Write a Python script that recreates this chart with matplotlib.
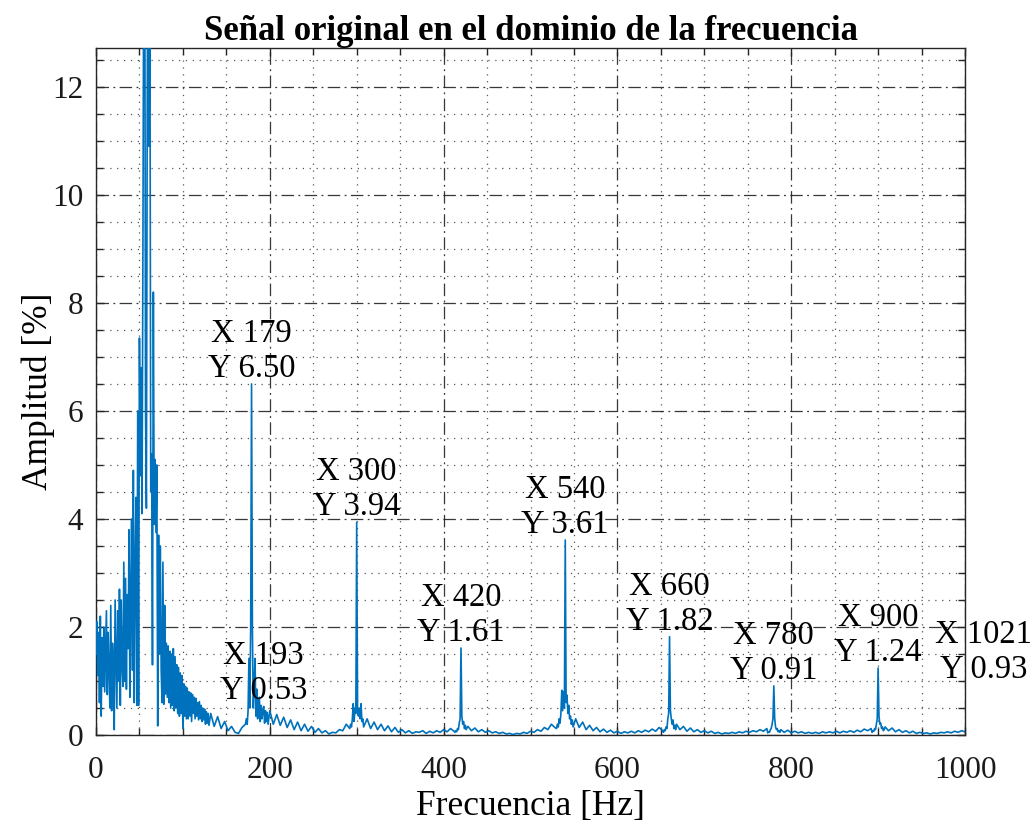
import numpy as np
import matplotlib
matplotlib.use('Agg')
from matplotlib import pyplot as plt
from matplotlib.ticker import MultipleLocator

# spectrum values
# 0..130 Hz, one value per Hz
low_amp = [1.5, 2.1, 1.1, 1.9, 0.6, 2.2, 0.35, 1.8, 0.9, 2.0,
           0.8, 1.6, 2.3, 0.75, 1.9, 1.2, 0.5, 2.4, 0.45, 1.7,
           1.3, 0.1, 2.5, 1.5, 0.5, 2.3, 1.0, 2.7, 0.55, 2.5,
           1.3, 0.9, 3.2, 1.0, 2.9, 0.85, 2.6, 1.6, 3.8, 0.7,
           2.7, 4.0, 1.2, 4.9, 0.6, 3.1, 4.4, 0.55, 6.0, 0.55,
           7.35, 4.8, 6.8, 4.1, 9.0, 15.0, 16.0, 6.0, 4.2, 12.0,
           16.0, 10.9, 14.0, 4.5, 5.2, 1.3, 8.2, 3.9, 5.1, 3.75,
           5.0, 0.17, 3.7, 1.5, 3.5, 1.2, 0.6, 3.2, 0.57, 2.4,
           0.76, 1.7, 0.7, 1.65, 0.6, 1.55, 0.5, 1.5, 0.55, 1.6,
           0.45, 1.45, 0.5, 1.3, 0.4, 1.25, 0.35, 1.15, 0.4, 1.1,
           0.12, 0.95, 0.35, 0.9, 0.3, 0.87, 0.3, 0.8, 0.35, 0.78,
           0.25, 0.75, 0.4, 0.7, 0.3, 0.68, 0.35, 0.6, 0.28, 0.62,
           0.3, 0.55, 0.25, 0.5, 0.28, 0.48, 0.2, 0.43, 0.22, 0.4,
           0.18]

# noise floor, 132..1028 Hz every 4 Hz
floor_amp = [0.40, 0.16, 0.34, 0.12, 0.25, 0.08, 0.16, 0.05, 0.03, 0.14,
             0.2, 1.4, 1.9, 0.35, 0.7, 0.45, 0.25, 0.45, 0.2, 0.38,
             0.18, 0.33, 0.14, 0.28, 0.1, 0.24, 0.08, 0.2, 0.07, 0.16,
             0.05, 0.12, 0.04, 0.08, 0.02, 0.05, 0.04, 0.1, 0.08, 0.2,
             0.12, 0.58, 3.9, 0.3, 0.15, 0.3, 0.12, 0.24, 0.1, 0.2,
             0.08, 0.17, 0.06, 0.14, 0.05, 0.1, 0.04, 0.08, 0.03, 0.06,
             0.05, 0.08, 0.03, 0.07, 0.04, 0.08, 0.05, 0.1, 0.06, 0.12,
             0.07, 0.12, 1.6, 0.12, 0.16, 0.08, 0.13, 0.06, 0.1, 0.05,
             0.08, 0.04, 0.06, 0.03, 0.05, 0.02, 0.03, 0.01, 0.03, 0.02,
             0.05, 0.03, 0.07, 0.05, 0.1, 0.07, 0.14, 0.1, 0.2, 0.14,
             0.15, 0.83, 3.6, 0.55, 0.28, 0.3, 0.14, 0.24, 0.1, 0.18,
             0.08, 0.14, 0.06, 0.11, 0.05, 0.09, 0.04, 0.07, 0.03, 0.06,
             0.04, 0.07, 0.04, 0.08, 0.05, 0.09, 0.06, 0.11, 0.07, 0.14,
             0.08, 0.15, 1.8, 0.28, 0.2, 0.1, 0.16, 0.07, 0.13, 0.06,
             0.1, 0.05, 0.08, 0.04, 0.07, 0.03, 0.05, 0.02, 0.04, 0.03,
             0.05, 0.03, 0.06, 0.04, 0.07, 0.05, 0.08, 0.06, 0.1, 0.07,
             0.12, 0.1, 0.9, 0.12, 0.1, 0.05, 0.09, 0.04, 0.07, 0.04,
             0.06, 0.03, 0.05, 0.03, 0.05, 0.03, 0.06, 0.04, 0.06, 0.04,
             0.07, 0.04, 0.07, 0.05, 0.08, 0.05, 0.09, 0.06, 0.11, 0.08,
             0.12, 0.12, 1.2, 0.12, 0.15, 0.08, 0.13, 0.06, 0.1, 0.05,
             0.08, 0.04, 0.07, 0.03, 0.05, 0.03, 0.04, 0.02, 0.04, 0.03,
             0.05, 0.04, 0.06, 0.04, 0.07, 0.05, 0.08, 0.06, 0.1, 0.07,
             0.12, 0.1, 0.3, 0.15, 0.08]

# 1 Hz detail around each harmonic: first bin, values
win_start = [172, 292, 413, 530, 653, 773, 893, 1014]
win_amp = [
    [0.2, 0.3, 0.2, 0.45, 1.42, 0.5, 2.0, 6.5, 1.9, 0.5, 0.9, 1.42, 0.35, 0.85,
     0.3, 0.6, 0.7, 0.25, 0.55, 0.3, 0.45, 0.53, 0.22, 0.45, 0.25, 0.42, 0.2],
    [0.12, 0.2, 0.15, 0.3, 0.58, 0.25, 0.5, 0.4, 3.94, 0.45, 0.35, 0.5, 0.3, 0.58,
     0.25, 0.3, 0.15],
    [0.05, 0.08, 0.06, 0.12, 0.1, 0.22, 0.3, 1.61, 0.35, 0.2, 0.25, 0.12, 0.18, 0.1, 0.14],
    [0.12, 0.2, 0.15, 0.3, 0.22, 0.4, 0.83, 0.45, 0.8, 0.5, 3.61, 0.6, 0.74, 0.4,
     0.55, 0.3, 0.35, 0.2, 0.28, 0.15, 0.2],
    [0.05, 0.1, 0.08, 0.15, 0.12, 0.3, 0.4, 1.82, 0.45, 0.3, 0.2, 0.28, 0.12, 0.18, 0.1],
    [0.04, 0.06, 0.05, 0.1, 0.12, 0.2, 0.3, 0.91, 0.3, 0.15, 0.1, 0.12, 0.06, 0.08, 0.05],
    [0.05, 0.08, 0.07, 0.12, 0.1, 0.2, 0.3, 1.24, 0.35, 0.2, 0.22, 0.12, 0.15, 0.08, 0.1],
    [0.05, 0.08, 0.1, 0.12, 0.15, 0.25, 0.3, 0.93, 0.3, 0.2, 0.15, 0.18, 0.1, 0.12, 0.08],
]

# data tips
tip_freq = [179, 193, 300, 420, 540, 660, 780, 900, 1021]
tip_amp = [6.50, 0.53, 3.94, 1.61, 3.61, 1.82, 0.91, 1.24, 0.93]

# put the spectrum together
f_low = np.arange(0, len(low_amp))
f_floor = np.arange(132, 132 + 4 * len(floor_amp), 4)
keep = np.ones(len(f_floor), dtype=bool)
f_parts = [f_low]
a_parts = [np.array(low_amp)]
for s, w in zip(win_start, win_amp):
    e = s + len(w) - 1
    keep &= ~((f_floor >= s) & (f_floor <= e))
    f_parts.append(np.arange(s, e + 1))
    a_parts.append(np.array(w))
f_parts.append(f_floor[keep])
a_parts.append(np.array(floor_amp)[keep])
freq = np.concatenate(f_parts)
amp = np.concatenate(a_parts)
order = np.argsort(freq, kind='stable')
freq, amp = freq[order], amp[order]

plt.rcParams['font.family'] = ['Liberation Serif', 'DejaVu Serif']

fig = plt.figure(figsize=(10.3, 8.27), dpi=100)
ax = fig.add_axes([0.0932, 0.1112, 0.8437, 0.8308])

ax.plot(freq, amp, color='#0072BD', lw=1.2, zorder=3)

ax.set_xlim(0, 1000)
ax.set_ylim(0, 12.72)
ax.xaxis.set_major_locator(MultipleLocator(200))
ax.xaxis.set_minor_locator(MultipleLocator(50))
ax.yaxis.set_major_locator(MultipleLocator(2))
ax.yaxis.set_minor_locator(MultipleLocator(0.5))

ax.grid(which='major', color='#222222', lw=0.9, dashes=(10, 3.5, 1.5, 3.5), alpha=0.9)
ax.grid(which='minor', color='#444444', lw=0.9, dashes=(1, 4.5), alpha=0.9)
ax.set_axisbelow(True)

ax.tick_params(which='both', direction='in', top=True, right=True,
               labelsize=22.5, colors='#262626', labelcolor='#1a1a1a')
ax.tick_params(which='major', length=6, width=1)
ax.tick_params(which='minor', length=5, width=1)
ax.tick_params(axis='x', which='major', pad=15)
ax.tick_params(axis='y', which='major', pad=9)
for sp in ax.spines.values():
    sp.set_color('#262626')
    sp.set_linewidth(1)

ax.set_xlabel('Frecuencia [Hz]', fontsize=25.5, labelpad=4)
ax.set_ylabel('Amplitud [%]', fontsize=25.5, labelpad=-2)
ax.set_title('Señal original en el dominio de la frecuencia', fontsize=25,
             fontweight='bold', pad=6)

for f, a in zip(tip_freq, tip_amp):
    ax.text(f, a, f'X {f}\nY {a:.2f}', ha='center', va='bottom',
            fontsize=23.5, linespacing=1.2, zorder=4)

fig.savefig('out.png', dpi=100)
